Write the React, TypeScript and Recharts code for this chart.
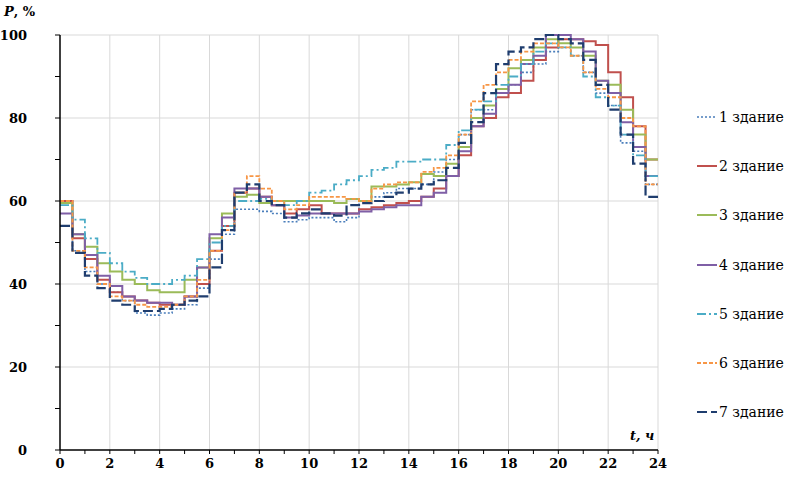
import React from "react";
import { LineChart, Line, XAxis, YAxis, CartesianGrid } from "recharts";

const hours: number[] = Array.from({ length: 49 }, (_, i) => i / 2);

const names = ["1 здание", "2 здание", "3 здание", "4 здание", "5 здание", "6 здание", "7 здание"];

const b1 = [60, 48, 43, 40, 38, 36, 33, 32.5, 33, 34, 35, 39, 46, 52, 58, 58, 57.5, 57, 55, 55.5, 56, 56, 55, 56, 60, 61, 62, 63, 63, 64, 67, 70, 76, 82, 82, 86, 88, 91, 93, 96, 97, 95, 91, 86, 83, 74, 72, 64];
const b2 = [60, 51, 46, 41, 38, 37, 36, 35.5, 35, 35, 37, 40, 48, 54, 62, 63, 61, 59, 57, 58, 59, 57, 57, 57, 58, 58.5, 59, 59.5, 60, 61, 63, 66, 71, 78, 80, 85, 86, 89, 94, 97, 99, 99, 98.5, 97.6, 91, 85, 78, 70];
const b3 = [59.5, 52, 49, 45, 43, 41, 40, 38.5, 38, 38, 41, 44, 51, 57, 61, 61.5, 59.5, 60, 60, 60, 60, 60, 59.5, 60.5, 60, 63.5, 63.5, 64, 64.5, 66.5, 66, 69, 73, 80, 83, 87, 92, 94, 97, 99, 98, 97, 95, 89, 88, 82, 76, 70];
const b4 = [57, 52, 47, 42, 39.5, 37, 36, 35.5, 35.5, 35, 37, 44, 52, 56, 63, 63, 61, 59, 56, 56.5, 57, 57, 57, 57, 57.5, 58, 58.5, 59, 59, 61, 62, 66, 72, 78, 81, 86, 88, 93, 95, 100, 100, 99, 96, 89, 86, 79, 73, 66];
const b5 = [59, 55.5, 51, 47.5, 45, 43, 41.5, 40, 40, 41, 42, 46, 50, 54, 60, 60, 60.5, 60, 59, 60, 62, 62.5, 64, 65, 66, 67.5, 68, 69.5, 69.5, 70, 70, 73.5, 77, 82, 84, 88, 90, 93, 96, 98, 97, 95, 90, 85, 83, 76, 71, 66];
const b6 = [60, 48, 44, 40, 37, 36, 35, 34.5, 34.5, 35, 37, 41, 48, 53, 62, 66, 63, 60, 58, 59, 61, 61, 61, 60.5, 60, 63, 64, 64.5, 64.5, 67, 68, 71, 76, 84, 88, 91, 94, 96, 98, 98, 97, 95, 91, 87, 85, 80, 78, 64];
const b7 = [54, 47.5, 42, 39, 36, 35, 33.5, 33.5, 34, 35, 36, 37, 44, 53, 62, 64, 60, 59, 56, 57, 58, 57, 56.5, 59, 59.5, 60, 61, 62, 63, 64, 65, 68, 74, 79, 86, 93, 96, 97, 99, 100, 99, 98, 94, 88, 82, 76, 69, 61];

const series = [b1, b2, b3, b4, b5, b6, b7];
const colors = ["#4A7EBB", "#C0504D", "#9BBB59", "#7F5FA6", "#4BACC6", "#F79646", "#1F3D6E"];
const dashes = ["2 2", undefined, undefined, undefined, "9 3 2 3", "4 2", "10 4"];
const widths = [1.6, 2, 2, 2, 1.8, 1.8, 2.2];

const xTicks = Array.from({ length: 25 }, (_, i) => i);
const yTicks = [0, 10, 20, 30, 40, 50, 60, 70, 80, 90, 100];

const data = hours.map((t, i) => {
  const row: Record<string, number> = { t };
  series.forEach((s, k) => {
    row["s" + k] = s[Math.min(i, s.length - 1)];
  });
  return row;
});

const font = "'DejaVu Serif', serif";

export default function App() {
  return (
    <div style={{ position: "absolute", left: 0, top: 0, width: 799, height: 481, background: "#fff", fontFamily: font }}>
      <LineChart width={799} height={481} data={data} margin={{ top: 35, right: 141, bottom: 0, left: 0 }}>
        <CartesianGrid
          stroke="#d9d9d9"
          horizontalValues={[20, 40, 60, 80, 100]}
          verticalValues={[2, 4, 6, 8, 10, 12, 14, 16, 18, 20, 22, 24]}
        />
        <XAxis
          dataKey="t"
          type="number"
          domain={[0, 24]}
          ticks={xTicks}
          interval={0}
          height={31}
          tickSize={4}
          axisLine={{ stroke: "#000", strokeWidth: 1.5 }}
          tickLine={{ stroke: "#000" }}
          tickFormatter={(v: number) => (v % 2 === 0 ? String(v) : "")}
          tick={{ fill: "#000", fontSize: 13, fontWeight: "bold", fontFamily: font, dy: 3 }}
        />
        <YAxis
          type="number"
          domain={[0, 100]}
          ticks={yTicks}
          interval={0}
          width={60}
          tickSize={5}
          axisLine={{ stroke: "#000", strokeWidth: 1.5 }}
          tickLine={{ stroke: "#000" }}
          tickFormatter={(v: number) => (v % 20 === 0 ? String(v) : "")}
          tick={{ fill: "#000", fontSize: 13, fontWeight: "bold", fontFamily: font, dx: -26 }}
        />
        {series.map((_, k) => (
          <Line
            key={k}
            type="stepAfter"
            dataKey={"s" + k}
            name={names[k]}
            stroke={colors[k]}
            strokeWidth={widths[k]}
            strokeDasharray={dashes[k]}
            dot={false}
            activeDot={false}
            isAnimationActive={false}
          />
        ))}
        <text x={4} y={16} style={{ fontFamily: font }} fontSize={13} fontWeight="bold" fill="#000">
          <tspan fontStyle="italic">P</tspan>
          <tspan>, %</tspan>
        </text>
        <text x={630} y={440} style={{ fontFamily: font }} fontSize={13} fontWeight="bold" fontStyle="italic" fill="#000">
          t, ч
        </text>
      </LineChart>
      <div style={{ position: "absolute", left: 696, top: 92, width: 103, fontFamily: font, fontSize: 14 }}>
        {names.map((n, k) => (
          <div key={n} style={{ display: "flex", alignItems: "center", height: 49.3 }}>
            <svg width={22} height={10} style={{ marginRight: 1 }}>
              <line x1={1} y1={5} x2={21} y2={5} stroke={colors[k]} strokeWidth={widths[k]} strokeDasharray={dashes[k]} />
            </svg>
            <span style={{ color: "#000", whiteSpace: "nowrap" }}>{n}</span>
          </div>
        ))}
      </div>
    </div>
  );
}
